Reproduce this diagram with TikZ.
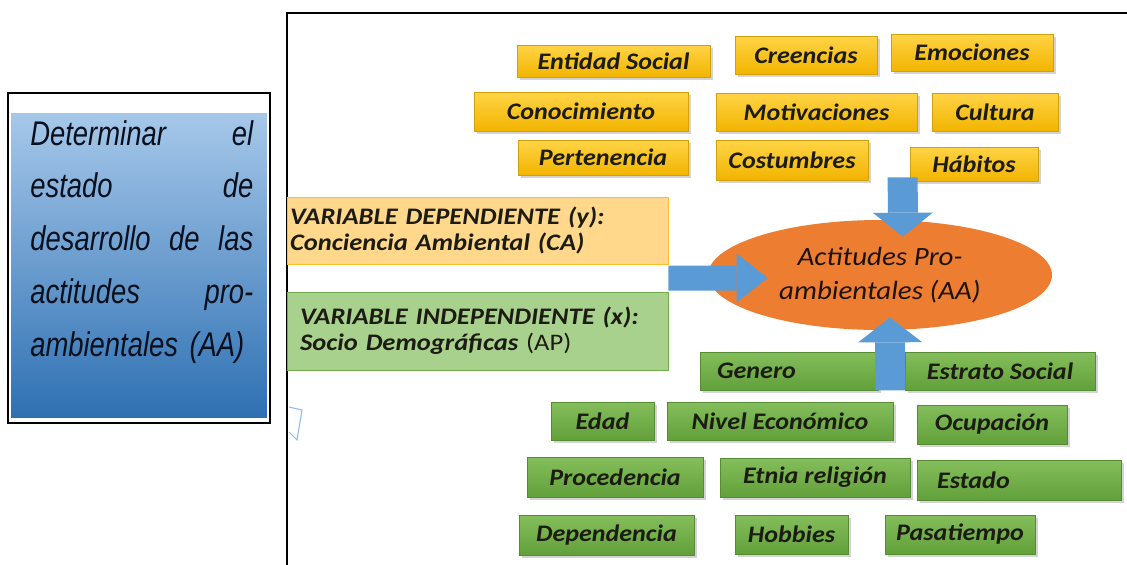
\documentclass[tikz,border=0pt]{standalone}
\usepackage{fontspec}
\setmainfont[FakeStretch=1.1]{Carlito}
\newfontfamily\narrowfont[FakeStretch=0.8]{Liberation Sans}
\newfontfamily\widefont[FakeStretch=1.12]{Carlito}
\usepackage{tikz}
\usetikzlibrary{arrows.meta, positioning, calc, shadows, shapes.geometric}
\definecolor{ambtop}{RGB}{255,212,70}
\definecolor{ambbot}{RGB}{242,180,0}
\definecolor{ambline}{RGB}{210,160,10}
\definecolor{grtop}{RGB}{132,190,92}
\definecolor{grbot}{RGB}{98,160,58}
\definecolor{grline}{RGB}{86,140,52}
\definecolor{vdepfill}{RGB}{255,216,140}
\definecolor{vdepline}{RGB}{250,190,40}
\definecolor{vindfill}{RGB}{169,209,142}
\definecolor{vindline}{RGB}{112,173,71}
\definecolor{aafill}{RGB}{237,125,49}
\definecolor{arrowblue}{RGB}{91,155,213}
\definecolor{lefttop}{RGB}{166,200,234}
\definecolor{leftbot}{RGB}{46,112,178}
\definecolor{inktext}{RGB}{28,28,18}
\definecolor{navyink}{RGB}{8,16,30}
\newcommand{\boxfont}{\fontsize{13.5}{15}\selectfont\bfseries\itshape}
\newcommand{\varfont}{\widefont\fontsize{13.5}{15}\selectfont\bfseries\itshape}
\tikzset{
  basebox/.style={rectangle,align=center,font=\boxfont,text=inktext,inner sep=1pt,
    drop shadow={opacity=0.35,shadow xshift=1.5pt,shadow yshift=-1.5pt}},
  ambox/.style={basebox,top color=ambtop,bottom color=ambbot,draw=ambline},
  grbox/.style={basebox,top color=grtop,bottom color=grbot,draw=grline},
  varbox/.style={rectangle,align=left,font=\varfont,text=inktext,minimum height=#1},
  aanode/.style={ellipse,fill=aafill,minimum width=6.88cm,minimum height=2.2cm,inner sep=0pt,
    align=center,font=\fontsize{15}{19}\selectfont\itshape,text=black!85!brown},
  harr/.style={draw=arrowblue,line width=0.5cm,-{Triangle[width=0.98cm 0 0,length=0.62cm 0 0,line width=0pt 0 0]}},
  varr/.style={draw=arrowblue,line width=0.6cm,-{Triangle[width=1.2cm 0 0,length=0.48cm 0 0,line width=0pt 0 0]}},
  uarr/.style={draw=arrowblue,line width=0.6cm,-{Triangle[width=1.28cm 0 0,length=0.5cm 0 0,line width=0pt 0 0]}}
}

\begin{document}
\begin{tikzpicture}[x=0.02cm,y=-0.02cm]
  \useasboundingbox (0,0) rectangle (1127,565);

  \node[rectangle,draw=black,line width=1.2pt,minimum width=5.24cm,minimum height=6.6cm,
        inner sep=0pt] (goalframe) at (139,258) {};
  \node[rectangle,top color=lefttop,bottom color=leftbot,minimum width=5.12cm,minimum height=6.1cm,
        inner sep=0pt] (goalbox) at (139,265.5) {};
  \node[anchor=north west,inner sep=0pt,text width=4.46cm,align=left,text=navyink,
        font=\narrowfont\itshape\fontsize{19.5}{30}\selectfont] (goal) at (30,120)
        {Determinar\hfill el\\ estado\hfill de\\ desarrollo\hfill de\hfill las\\
         actitudes\hfill pro-\\ ambientales (AA)};

  \draw[line width=1.2pt] (287,565) |- (1127,13);
  \draw[color=arrowblue!70,line width=0.6pt] (289,407) -- (302,410) -- (297,440) -- (289,432);

  \node[ambox,minimum width=3.86cm,minimum height=0.64cm] (entidad) at (613.5,61) {Entidad Social};
  \node[ambox,minimum width=2.84cm,minimum height=0.76cm] (creencias) at (806,55) {Creencias};
  \node[ambox,minimum width=3.24cm,minimum height=0.74cm] (emociones) at (972,52.5) {Emociones};
  \node[ambox,minimum width=4.28cm,minimum height=0.78cm] (conoc) at (581,111.5) {Conocimiento};
  \node[ambox,minimum width=4.02cm,minimum height=0.76cm] (motiv) at (816.5,112) {Motivaciones};
  \node[ambox,minimum width=2.52cm,minimum height=0.76cm] (cultura) at (995,112) {Cultura};
  \node[ambox,minimum width=3.40cm,minimum height=0.70cm] (perten) at (603,157.5) {Pertenencia};
  \node[ambox,minimum width=3.04cm,minimum height=0.80cm] (costum) at (792,160) {Costumbres};
  \node[ambox,minimum width=2.56cm,minimum height=0.68cm] (habitos) at (974,164) {Hábitos};

  \node[varbox=1.34cm,fill=vdepfill,draw=vdepline,text width=7.5cm,inner xsep=0.06cm] (vdep)
        at (477.5,230.5) {VARIABLE DEPENDIENTE (y):\\Conciencia Ambiental (CA)};
  \node[varbox=1.56cm,fill=vindfill,draw=vindline,text width=7.1cm,inner xsep=0.26cm] (vind)
        at (477.5,331) {VARIABLE INDEPENDIENTE (x):\\Socio Demográficas {\mdseries\upshape (AP)}};

  \node[aanode] (aa) at (880,275) {Actitudes Pro-\\ambientales (AA)};

  \node[grbox,minimum height=0.76cm,text width=2.88cm,align=left,inner xsep=0.34cm] (genero) at (789,371) {Genero};
  \node[grbox,minimum width=3.80cm,minimum height=0.76cm] (estrato) at (1000,371) {Estrato Social};
  \node[grbox,minimum width=2.06cm,minimum height=0.76cm] (edad) at (602.5,421) {Edad};
  \node[grbox,minimum width=4.52cm,minimum height=0.76cm] (nivel) at (780,421) {Nivel Económico};
  \node[grbox,minimum width=3.00cm,minimum height=0.78cm] (ocup) at (992,424.5) {Ocupación};
  \node[grbox,minimum width=3.52cm,minimum height=0.80cm] (proced) at (615,477) {Procedencia};
  \node[grbox,minimum width=3.80cm,minimum height=0.78cm] (etnia) at (815,477.5) {Etnia religión};
  \node[grbox,minimum height=0.80cm,text width=3.28cm,align=left,inner xsep=0.4cm] (estado) at (1019,480) {Estado};
  \node[grbox,minimum width=3.50cm,minimum height=0.80cm] (depend) at (606.5,535) {Dependencia};
  \node[grbox,minimum width=2.26cm,minimum height=0.78cm] (hobbies) at (791.5,534.5) {Hobbies};
  \node[grbox,minimum width=3.00cm,minimum height=0.78cm] (pasat) at (960,534.5) {Pasatiempo};

  \coordinate (vgap) at ($(vdep.south east)!0.5!(vind.north east)$);
  \draw[harr] (vgap) -- ($(aa.west)+(60,3)$);
  \draw[varr] ($(habitos.south west)+(-7,-4)$) -- ($(aa.north)+(23,17)$);
  \draw[uarr] ($(genero.south east)+(12,0)$) -- ($(aa.south)+(10,-13)$);
\end{tikzpicture}
\end{document}
